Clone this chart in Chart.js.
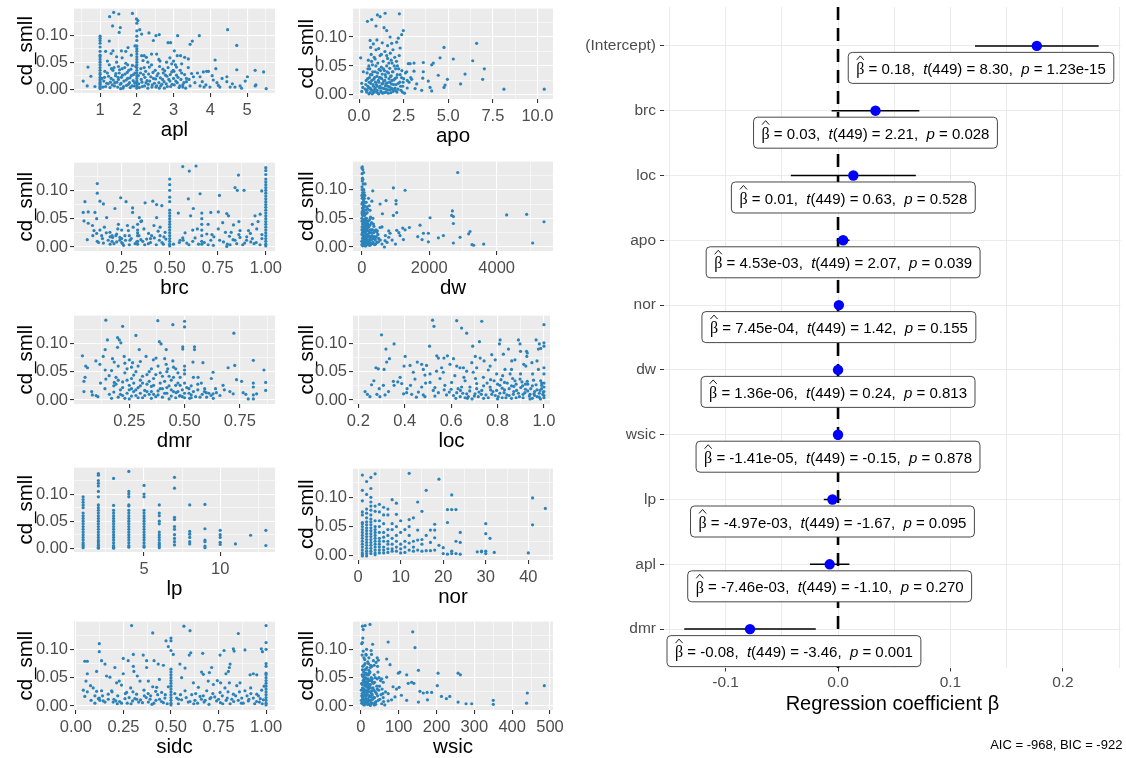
<!DOCTYPE html>
<html><head><meta charset="utf-8">
<script src="https://cdn.jsdelivr.net/npm/chart.js@4/dist/chart.umd.min.js"></script>
<style>
body{margin:0;background:#fff;width:1126px;height:758px;position:relative;overflow:hidden}
canvas{position:absolute}
</style></head><body>
<script>
// ---------------- DATA ----------------
const yMajor = [0, 0.05, 0.10];
const yMajorLabels = ['0.00', '0.05', '0.10'];
const yMinor = [0.025, 0.075, 0.125];

// apl
const aplCols = [[1,[.098,.094,.09,.085,.078,.07,.063,.06,.055,.05,.045,.04,.035,.03,.027,.022,.018,.015,.012,.01,.008,.005,.003,.001]],
 [2,[.122,.108,.098,.09,.08,.075,.07,.065,.06,.055,.05,.045,.04,.035,.03,.025,.02,.015,.012,.008,.005,.002]]];
const aplPts = [[1.26,.134],[1.37,.142],[1.51,.139],[1.88,.140],[1.99,.130],[2.03,.127],[1.34,.117],[1.52,.105],[1.55,.114],[2.08,.110],[2.13,.102],[2.33,.104],[2.52,.099],[2.61,.101],[3.11,.099],[3.70,.099],[4.47,.110],[4.72,.081],[3.51,.089],[3.45,.083],[2.85,.086],[2.92,.086],[2.45,.090],[1.25,.089],
 [1.58,.071],[1.76,.077],[1.95,.080],[1.35,.071],[3.02,.071],[3.10,.062],[3.19,.062],[3.30,.059],[3.40,.056],[4.13,.054],[4.15,.038],[4.72,.036],[5.01,.023],[5.22,.035],[5.45,.032],[0.67,.041],[0.75,.024],[0.54,.015],[0.65,.006],[0.86,.005],[3.90,.033],[3.95,.033],[3.81,.032],[3.72,.023],[4.08,.017],[4.45,.023],[4.45,.014],[4.54,.004],[4.67,.004],[4.85,.002],[4.95,.015],[5.22,.006],[5.24,.008],[5.52,.001],[4.81,.006],[4.22,.007],[4.26,.004],[3.99,.004],[3.83,.004],[3.72,.006],[3.45,.006],[3.25,.004],[3.49,.029],[3.54,.023],[3.35,.020],[2.81,.050],[2.63,.052],[2.54,.065],[2.40,.065],[2.26,.059],[2.17,.053],[2.13,.062],[2.76,.034],[2.99,.035],[3.08,.041],[3.22,.047],[2.95,.047],
 [1.1,.015],[1.15,.005],[1.2,.03],[1.22,.01],[1.25,.045],[1.3,.02],[1.33,.008],[1.35,.035],[1.4,.012],[1.42,.025],[1.45,.05],[1.48,.004],[1.5,.018],[1.5,.042],[1.52,.03],[1.55,.009],[1.58,.022],[1.6,.038],[1.62,.002],[1.65,.015],[1.68,.028],[1.7,.048],[1.72,.007],[1.75,.02],[1.78,.035],[1.8,.012],[1.82,.003],[1.85,.025],[1.88,.044],[1.9,.016],[1.93,.006],[1.95,.03],[1.45,.06],[1.6,.058],[1.3,.066],[1.15,.07],[1.7,.07],[1.85,.063],[1.2,.052],[1.38,.04],[1.12,.022],[1.28,.013],[1.56,.001],[1.75,.045],
 [2.05,.01],[2.1,.03],[2.12,.018],[2.15,.005],[2.2,.04],[2.22,.022],[2.25,.012],[2.3,.002],[2.32,.028],[2.35,.015],[2.4,.045],[2.42,.008],[2.45,.02],[2.5,.035],[2.52,.004],[2.55,.025],[2.6,.012],[2.62,.042],[2.65,.006],[2.7,.018],[2.72,.03],[2.75,.002],[2.8,.01],[2.82,.024],[2.85,.04],[2.9,.015],[2.92,.005],[2.95,.032],[3.0,.02],[3.02,.008],[3.05,.045],[3.08,.026],[3.1,.012],[3.15,.003],[3.18,.035],[3.2,.018],[3.25,.008],[3.3,.027],[3.35,.014],[3.4,.04],[2.3,.05],[2.6,.055],[2.9,.058],[2.2,.062],[3.0,.052]];
const aplExtra = [[1.05,.02],[1.08,.004],[1.13,.033],[1.18,.011],[1.23,.024],[1.27,.003],[1.31,.038],[1.36,.017],[1.39,.006],[1.43,.029],[1.46,.013],[1.49,.022],[1.53,.036],[1.57,.011],[1.61,.026],[1.64,.005],[1.67,.04],[1.71,.017],[1.74,.031],[1.77,.009],[1.81,.021],[1.84,.037],[1.87,.006],[1.91,.027],[1.94,.012],[1.97,.042],[2.04,.025],[2.07,.003],[2.11,.038],[2.14,.013],[2.18,.027],[2.21,.006],[2.24,.033],[2.28,.016],[2.31,.009],[2.34,.041],[2.38,.023],[2.41,.004],[2.44,.031],[2.48,.011],[2.51,.019],[2.54,.006],[2.58,.029],[2.61,.002],[2.64,.021],[2.68,.009],[2.71,.037],[2.74,.014],[2.78,.026],[2.83,.005],[2.87,.018],[2.91,.027],[2.96,.009],[3.01,.033],[3.06,.015],[3.12,.022],[3.17,.006],[3.22,.03],[3.28,.012],[3.33,.002],[3.42,.018],[3.58,.012],[3.65,.03],[3.78,.014],[3.88,.008],[4.05,.025],[4.18,.012],[4.32,.02],[4.6,.01]];

// apo
const apoPts = [[0.47,.127],[0.71,.130],[1.03,.138],[1.18,.135],[1.46,.141],[2.26,.140],[0.95,.119],[1.40,.116],[1.55,.111],[1.74,.100],[2.48,.111],[2.39,.104],[2.2,.098],[0.62,.094],[1.83,.089],[2.11,.091],[2.3,.081],[4.76,.082],[6.59,.089],[5.28,.062],[6.37,.059],[7.02,.045],[5.94,.036],[6.93,.027],[5.69,.019],[8.12,.010],[10.38,.010],[4.95,.027],[4.82,.017],[4.76,.013],[4.44,.034],[4.54,.064],[4.16,.055],[4.07,.052],[3.6,.056],[3.6,.040],[3.57,.029],[3.51,.008],[3.88,.024],[3.98,.013],[4.07,.007],[3.08,.041],[3.08,.055],[2.86,.054],[2.76,.054],[2.67,.040],[2.7,.025],[2.95,.027],[3.23,.019],[3.14,.011],[0.09,.064],[0.24,.040],[0.15,.020],[0.21,.013],[0.15,.006],
 [0.35,.01],[0.4,.025],[0.42,.005],[0.45,.038],[0.5,.015],[0.52,.06],[0.55,.002],[0.58,.03],[0.6,.045],[0.62,.012],[0.65,.02],[0.68,.07],[0.7,.008],[0.72,.035],[0.75,.052],[0.78,.018],[0.8,.004],[0.82,.027],[0.85,.065],[0.88,.01],[0.9,.04],[0.92,.022],[0.95,.078],[0.98,.005],[1.0,.032],[1.02,.015],[1.05,.055],[1.08,.025],[1.1,.002],[1.12,.044],[1.15,.012],[1.18,.068],[1.2,.03],[1.22,.007],[1.25,.048],[1.28,.019],[1.3,.036],[1.32,.003],[1.35,.058],[1.38,.024],[1.4,.011],[1.42,.042],[1.45,.075],[1.48,.016],[1.5,.031],[1.52,.005],[1.55,.05],[1.58,.021],[1.6,.063],[1.62,.009],[1.65,.038],[1.68,.028],[1.7,.014],[1.72,.046],[1.75,.072],[1.78,.004],[1.8,.033],[1.82,.019],[1.85,.055],[1.88,.01],[1.9,.04],[1.95,.026],[2.0,.065],[2.02,.012],[2.05,.045],[2.1,.03],[2.12,.005],[2.15,.05],[2.2,.02],[2.25,.068],[2.3,.035],[2.35,.008],[2.4,.042],[2.45,.015],[2.5,.028],[2.55,.003],[2.6,.038],[2.7,.012],[2.8,.022],[2.9,.03],[0.8,.088],[1.0,.095],[1.3,.09],[1.6,.085],[0.65,.082],[1.1,.08],[1.9,.078],[0.5,.045],[0.55,.05]];
const apoExtra = [[0.38,.018],[0.44,.008],[0.48,.028],[0.53,.012],[0.57,.022],[0.61,.004],[0.64,.035],[0.67,.01],[0.71,.025],[0.74,.002],[0.77,.04],[0.81,.015],[0.84,.006],[0.87,.03],[0.91,.012],[0.94,.05],[0.97,.018],[1.01,.008],[1.04,.038],[1.07,.003],[1.11,.022],[1.14,.03],[1.17,.015],[1.21,.042],[1.24,.005],[1.27,.028],[1.31,.012],[1.34,.02],[1.37,.045],[1.41,.004],[1.44,.025],[1.47,.035],[1.51,.01],[1.54,.02],[1.57,.04],[1.61,.015],[1.64,.003],[1.67,.055],[1.71,.022],[1.74,.009],[1.77,.032],[1.81,.012],[1.84,.025],[1.87,.04],[1.91,.006],[1.94,.018],[1.97,.05],[2.01,.028],[2.04,.008],[2.08,.018],[2.14,.035],[2.18,.01],[2.22,.045],[2.28,.022],[2.33,.015],[2.38,.03],[2.43,.005],[2.47,.022],[0.9,.062],[1.25,.07],[1.55,.068],[1.8,.06],[2.1,.058],[0.7,.058]];

// brc
const brcCols = [[1.0,[.14,.135,.128,.12,.115,.11,.105,.1,.095,.09,.085,.08,.075,.07,.065,.06,.055,.05,.045,.04,.035,.03,.025,.02,.015,.01,.005,.002]],
 [0.5,[.12,.11,.1,.088,.08,.065,.06,.055,.05,.045,.04,.035,.03,.025,.02,.015,.01,.005,.002]],
 [0.667,[.06,.05,.04,.03,.02,.01,.005]],[0.333,[.04,.03,.025,.02,.01,.005]],[0.25,[.03,.015,.008]],[0.2,[.02,.01]]];
const brcPts = [[.568,.142],[.602,.134],[.637,.143],[.123,.112],[.123,.095],[.137,.081],[.155,.076],[.059,.080],[.245,.087],[.273,.080],[.307,.069],[.307,.061],[.372,.078],[.412,.081],[.432,.075],[.459,.073],[.215,.068],[.172,.052],[.076,.062],[.05,.061],[.111,.061],[.054,.046],[.076,.042],[.098,.038],[.071,.013],[.106,.029],[.12,.024],[.137,.030],[.146,.020],[.123,.010],[.155,.007],[.189,.026],[.203,.017],[.224,.009],[.233,.040],[.241,.017],[.255,.006],[.267,.020],[.285,.029],[.293,.012],[.328,.009],[.342,.052],[.354,.046],[.366,.032],[.38,.014],[.389,.006],[.406,.020],[.418,.038],[.432,.052],[.446,.012],[.467,.005],[.476,.026],[.545,.060],[.554,.012],[.568,.016],[.589,.007],[.597,.085],[.609,.055],[.623,.068],[.632,.016],[.644,.032],[.658,.094],[.693,.023],[.714,.061],[.714,.012],[.753,.062],[.753,.032],[.759,.091],[.776,.043],[.797,.059],[.806,.055],[.797,.001],[.814,.004],[.832,.039],[.84,.105],[.852,.100],[.858,.127],[.866,.029],[.887,.100],[.901,.018],[.922,.009],[.939,.006],[.944,.055],[.953,.032],[.979,.099],[.971,.058],[.811,.019],[.866,.017],[.91,.029],[.84,.012],[.727,.003],[.849,.006],[.224,.023],[.18,.012],[.16,.035],[.19,.005],[.29,.004],[.31,.035],[.36,.01],[.4,.015],[.44,.028],[.47,.018],[.58,.025],[.6,.004],[.68,.008],[.73,.018],[.78,.009],[.82,.026],[.88,.004],[.93,.015],[.96,.045],[.98,.022]];
const brcExtra = [[.1,.02],[.13,.008],[.15,.015],[.17,.025],[.19,.018],[.21,.006],[.22,.02],[.24,.012],[.26,.003],[.27,.012],[.29,.02],[.3,.015],[.32,.006],[.34,.02],[.35,.013],[.37,.004],[.39,.024],[.4,.008],[.42,.016],[.43,.004],[.45,.02],[.46,.008],[.48,.014],[.52,.005],[.55,.008],[.57,.012],[.62,.01],[.65,.005],[.7,.004],[.72,.022],[.76,.012],[.79,.026],[.8,.005],[.83,.013],[.86,.022],[.89,.007],[.9,.012],[.92,.024],[.95,.008],[.97,.004],[.98,.015],[.12,.05],[.23,.032],[.28,.038],[.35,.045],[.45,.035],[.62,.03],[.7,.04],[.86,.045],[.93,.04]];

// dw
const dwPts = [[2845,.130],[1284,.099],[938,.103],[326,.098],[721,.081],[1017,.081],[1017,.075],[1037,.060],[938,.055],[543,.075],[612,.058],[2687,.063],[2667,.055],[2716,.053],[4296,.056],[4889,.057],[5403,.044],[2025,.051],[1728,.038],[2716,.041],[3210,.027],[3170,.023],[2914,.017],[2420,.020],[2272,.016],[1975,.024],[1827,.024],[1660,.018],[1788,.013],[1975,.009],[2716,.007],[3269,.004],[3318,.003],[3615,.005],[5067,.007],[1215,.033],[1412,.034],[1284,.030],[1037,.029],[1136,.020],[1235,.013],[840,.024],[800,.017],[691,.011],[672,.000],[494,.009],[543,.034],[444,.026],[395,.014],
 [5,.138],[15,.14],[30,.135],[10,.128],[20,.12],[40,.11],[8,.105],[60,.1],[25,.095],[90,.09],[12,.085],[50,.08],[130,.078],[200,.085],[35,.075],[70,.07],[110,.065],[160,.06],[220,.072],[300,.08],[18,.062],[45,.058],[80,.055],[140,.05],[190,.045],[260,.052],[330,.05],[5,.05],[22,.045],[55,.042],[95,.04],[120,.036],[170,.033],[240,.038],[290,.03],[360,.036],[10,.035],[30,.03],[65,.028],[100,.025],[150,.022],[210,.02],[270,.018],[340,.015],[400,.012],[8,.022],[40,.018],[75,.015],[115,.012],[180,.01],[230,.008],[310,.006],[380,.004],[15,.01],[50,.006],[85,.004],[125,.002],[165,.005],[250,.003],[450,.008],[500,.015],[3,.004],[28,.002],[60,.012],[105,.008],[140,.017],[200,.028],[280,.042],[350,.025],[420,.03],[480,.022],[550,.012],[600,.035],[700,.02],[800,.028],[900,.012],[1000,.005],[20,.068],[35,.088],[70,.095],[100,.11],[5,.075],[12,.058],[25,.04],[45,.027],[150,.07],[600,.005],[750,.008],[1100,.025],[30,.118],[55,.13],[75,.085],[180,.04],[220,.003]];
const dwExtra = [[2,.01],[6,.03],[9,.045],[14,.06],[17,.025],[21,.015],[26,.055],[33,.008],[38,.04],[42,.065],[48,.02],[52,.035],[58,.005],[62,.048],[68,.018],[72,.032],[78,.06],[82,.01],[88,.025],[92,.045],[98,.002],[104,.02],[108,.038],[112,.05],[118,.006],[122,.028],[128,.015],[133,.042],[138,.032],[145,.008],[152,.038],[158,.02],[163,.045],[168,.012],[175,.028],[185,.018],[195,.006],[205,.035],[215,.012],[225,.025],[235,.048],[245,.015],[255,.03],[265,.006],[275,.025],[285,.012],[295,.042],[305,.02],[320,.03],[335,.008],[345,.04],[370,.018],[390,.028],[410,.005],[430,.018],[460,.028],[3,.09],[11,.1],[16,.115],[24,.078],[31,.068],[39,.092],[47,.072],[57,.083],[64,.064],[83,.072],[96,.078],[125,.058],[175,.066],[245,.064]];

// dmr
const dmrPts = [[.144,.141],[.22,.130],[.28,.114],[.379,.140],[.447,.133],[.5,.139],[.5,.129],[.151,.106],[.197,.110],[.205,.106],[.212,.101],[.295,.089],[.141,.089],[.197,.093],[.386,.103],[.394,.099],[.417,.089],[.492,.090],[.492,.094],[.545,.094],[.545,.089],[.038,.078],[.099,.069],[.117,.063],[.132,.077],[.174,.073],[.182,.067],[.053,.060],[.061,.057],[.05,.040],[.045,.033],[.045,.015],[.08,.015],[.083,.009],[.108,.006],[.141,.053],[.144,.037],[.159,.043],[.182,.031],[.227,.077],[.25,.071],[.265,.066],[.326,.077],[.359,.071],[.371,.074],[.41,.073],[.417,.063],[.424,.055],[.447,.069],[.5,.060],[.5,.053],[.5,.046],[.538,.067],[.583,.066],[.621,.038],[.629,.049],[.561,.040],[.576,.030],[.591,.020],[.598,.013],[.629,.011],[.644,.013],[.674,.026],[.697,.057],[.727,.061],[.723,.118],[.735,.036],[.758,.033],[.765,.013],[.777,.010],[.788,.002],[.811,.070],[.811,.030],[.811,.023],[.811,.009],[.811,.002],[.826,.011],[.859,.053],[.867,.031],[.867,.017],[.72,.011],[.705,.015],[.53,.009],[.523,.003],[.477,.007],[.462,.013],
 [.16,.01],[.18,.025],[.19,.04],[.2,.005],[.21,.018],[.22,.032],[.23,.048],[.24,.012],[.25,.026],[.25,.002],[.26,.038],[.27,.015],[.28,.05],[.28,.008],[.29,.022],[.3,.035],[.31,.004],[.32,.017],[.33,.045],[.33,.028],[.34,.01],[.35,.024],[.36,.038],[.37,.006],[.38,.016],[.39,.03],[.4,.042],[.41,.012],[.42,.022],[.43,.002],[.44,.035],[.45,.015],[.46,.026],[.47,.048],[.48,.008],[.49,.018],[.5,.03],[.5,.004],[.52,.012],[.53,.025],[.54,.04],[.55,.006],[.56,.018],[.58,.01],[.6,.005],[.62,.008],[.63,.003],[.2,.06],[.23,.065],[.26,.058],[.3,.068],[.35,.055],[.38,.06],[.42,.05],[.45,.058],[.48,.04],[.14,.02],[.12,.03],[.1,.008],[.17,.052],[.22,.008],[.26,.02],[.31,.03],[.36,.01],[.4,.02],[.44,.007],[.47,.03],[.52,.02]];
const dmrExtra = [[.17,.003],[.18,.014],[.19,.028],[.21,.01],[.22,.022],[.23,.003],[.24,.035],[.25,.018],[.26,.007],[.27,.03],[.27,.044],[.28,.018],[.29,.004],[.3,.012],[.3,.025],[.31,.042],[.32,.008],[.33,.015],[.34,.033],[.35,.003],[.35,.015],[.36,.026],[.37,.045],[.38,.009],[.39,.02],[.4,.005],[.41,.033],[.42,.012],[.43,.025],[.44,.018],[.45,.04],[.46,.004],[.47,.015],[.48,.026],[.49,.006],[.5,.012],[.51,.022],[.53,.004],[.54,.015],[.56,.028],[.57,.005],[.59,.015],[.61,.012],[.64,.02],[.66,.008],[.68,.018],[.2,.035],[.24,.055],[.29,.06],[.34,.05],[.39,.048],[.43,.042],[.46,.055]];

// loc
const locPts = [[.52,.141],[.526,.130],[.624,.140],[.645,.127],[.667,.118],[.732,.139],[1.0,.133],[.30,.115],[.319,.090],[.354,.099],[.334,.073],[.507,.095],[.693,.095],[.722,.103],[.811,.106],[.808,.099],[.847,.090],[.89,.106],[.897,.099],[.899,.086],[.925,.086],[.976,.090],[.986,.091],[1.0,.101],[1.0,.095],[.98,.099],[.966,.106],[.928,.083],[.926,.077],[.775,.080],[.79,.071],[.825,.081],[.861,.069],[.875,.071],[.276,.057],[.286,.055],[.311,.054],[.322,.067],[.397,.060],[.402,.077],[.423,.061],[.454,.067],[.473,.063],[.48,.054],[.494,.061],[.487,.044],[.545,.074],[.538,.078],[.569,.074],[.584,.078],[.61,.073],[.624,.060],[.653,.057],[.689,.066],[.704,.077],[.725,.074],[.229,.015],[.239,.010],[.25,.006],[.257,.027],[.267,.034],[.29,.020],[.293,.006],[.315,.009],[.308,.026],[.351,.033],[.354,.026],[.38,.040],[.387,.029],[.395,.011],[.408,.013],[.425,.026],[.43,.010],[.444,.037],[.459,.014],[.473,.023],[.48,.009],[.487,.006],[.509,.031],[.523,.017],[.53,.007],[.545,.013],[.552,.038],[.566,.049],[.573,.026],[.58,.009],[.592,.014],[.602,.031],[.616,.043],[.624,.013],[.639,.006],[.645,.023],[.66,.034],[.667,.011],[.674,.006],[.681,.023],[.695,.049],[.703,.011],[.71,.029],[.717,.006],[.732,.017],[.739,.040],[.75,.009],[.76,.053],[.768,.023],[.775,.010],[.785,.034],[.796,.017],[.803,.006],[.81,.026],[.822,.043],[.828,.013],[.836,.004],[.842,.030],[.85,.020],[.86,.054],[.868,.010],[.875,.034],[.882,.017],[.894,.006],[.899,.046],[.908,.025],[.918,.013],[.922,.060],[.928,.033],[.937,.007],[.943,.020],[.951,.046],[.957,.011],[.966,.027],[.971,.006],[.976,.054],[.983,.017],[.986,.034],[.995,.010],[1.0,.023],[1.0,.004],[1.0,.046],[1.0,.057],[.997,.014],[.99,.026],[.97,.069],[.948,.066],[.913,.063],[.897,.037],[.854,.046],[.832,.054],[.796,.046],[.768,.060],[.742,.069],[.71,.057],[.667,.051],[.638,.057],[.595,.063],[.559,.057],[.537,.051],[.509,.046],[.437,.049],
 [.62,.003],[.66,.004],[.69,.002],[.72,.014],[.74,.003],[.78,.015],[.8,.002],[.82,.021],[.84,.009],[.86,.003],[.87,.024],[.89,.012],[.91,.004],[.92,.019],[.94,.01],[.95,.003],[.96,.015],[.98,.005],[.99,.02],[.93,.028],[.88,.028],[.83,.031],[.77,.036],[.64,.017],[.6,.019]];
const locExtra = [[.61,.008],[.63,.02],[.65,.012],[.67,.003],[.68,.016],[.7,.007],[.71,.02],[.73,.01],[.74,.025],[.76,.004],[.77,.018],[.79,.008],[.8,.028],[.81,.012],[.82,.004],[.83,.018],[.85,.008],[.86,.025],[.87,.015],[.88,.004],[.9,.022],[.91,.01],[.92,.028],[.93,.016],[.94,.002],[.95,.025],[.96,.008],[.97,.018],[.98,.012],[.99,.03],[1.0,.008],[1.0,.015],[1.0,.03],[.985,.002],[.955,.035],[.905,.032],[.865,.038],[.815,.036],[.755,.03],[.705,.038],[.655,.04],[.57,.018],[.53,.022],[.49,.03],[.45,.005],[.41,.02],[.37,.032],[.33,.015],[.28,.01]];

// lp
const lpCols = [[1,[.095,.09,.085,.08,.075,.065,.06,.055,.05,.045,.04,.035,.03,.025,.02,.015,.01,.007,.004,.001]],
 [2,[.138,.135,.125,.12,.115,.105,.095,.08,.075,.07,.065,.06,.055,.05,.045,.04,.035,.03,.025,.02,.015,.012,.008,.005,.002,.0]],
 [3,[.129,.079,.07,.065,.06,.055,.05,.045,.04,.035,.03,.025,.02,.015,.01,.005,.002,.0]],
 [4,[.142,.105,.1,.095,.08,.078,.07,.065,.06,.055,.05,.045,.04,.035,.03,.025,.02,.015,.01,.005,.002]],
 [5,[.116,.1,.095,.07,.065,.06,.055,.05,.045,.04,.035,.03,.025,.02,.015,.01,.005,.002]],
 [6,[.08,.065,.06,.05,.045,.03,.025,.02,.015,.01,.007,.004,.001]],
 [7,[.131,.111,.057,.053,.04,.035,.025,.018,.012,.006]],[8,[.080,.031,.026,.02,.012,.008]],
 [9,[.081,.036,.015,.012,.004,.001]],[10,[.033,.025,.02,.011,.007]],[11,[.008]],[12,[.024]],[13,[.033,.005]]];

// nor
const norCols = [[1,[.138,.112,.094,.075,.07,.057,.055,.05,.045,.04,.035,.03,.025,.02,.015,.01,.005,.002,.0]],
 [2,[.127,.105,.08,.073,.065,.058,.053,.048,.043,.038,.033,.028,.023,.018,.013,.008,.004,.0]],
 [3,[.134,.115,.1,.092,.085,.078,.07,.063,.058,.053,.048,.043,.038,.033,.028,.023,.018,.013,.008,.004]],
 [4,[.14,.085,.076,.06,.05,.045,.04,.035,.03,.025,.02,.015,.01,.005,.002]],
 [5,[.088,.075,.06,.05,.04,.03,.025,.02,.015,.01,.005]],[6,[.083,.07,.055,.04,.032,.025,.015,.01,.005]],
 [7,[.08,.07,.045,.035,.025,.02,.012,.006]],[8,[.096,.055,.045,.03,.02,.012,.008]],[9,[.09,.071,.05,.035,.025,.015,.008]],
 [10,[.06,.04,.02,.012,.005]],[11,[.045,.025,.015,.006]],[12,[.141,.062,.05,.035,.022,.01]],[13,[.065,.025,.015,.008]],
 [14,[.092,.044,.027,.01]],[15,[.076,.028,.02,.008]],[16,[.112,.035,.009]],[17,[.044,.023,.009]],[18,[.054,.044,.031,.01]],
 [19,[.131,.018]],[20,[.014,.004]],[21,[.057,.079,.003]],[22,[.104,.079,.008,.004]],[23,[.079,.025,.004]],[24,[.04,.023,.003]],
 [28,[.007]],[29,[.007,.008]],[30,[.055,.038,.008,.004]],[31,[.03]],[32,[.006]],[40,[.005]],[41,[.099,.053]],[44,[.081]]];

// sidc
const sidcCols = [[1.0,[.142,.112,.1,.075,.07,.058,.055,.05,.045,.04,.035,.03,.025,.02,.015,.01,.005,.002]],
 [0.5,[.12,.115,.098,.065,.06,.055,.05,.045,.04,.035,.03,.025,.02,.015,.01,.005,.002]]];
const sidcPts = [[.293,.142],[.404,.129],[.568,.141],[.6,.133],[.854,.128],[.123,.110],[.123,.096],[.474,.115],[.486,.105],[.512,.091],[.596,.090],[.604,.094],[.667,.093],[.758,.090],[.779,.098],[.828,.101],[.832,.097],[.889,.099],[.975,.101],[.981,.096],[.047,.079],[.06,.079],[.135,.080],[.153,.074],[.205,.068],[.249,.084],[.275,.080],[.302,.091],[.302,.070],[.305,.061],[.354,.090],[.372,.080],[.372,.068],[.411,.080],[.433,.074],[.46,.072],[.547,.074],[.574,.067],[.714,.068],[.811,.074],[.807,.068],[.789,.057],[.802,.061],[.661,.060],[.67,.056],[.702,.059],[.744,.045],[.761,.041],[.916,.055],[.933,.057],[.951,.055],[.06,.057],[.053,.044],[.039,.028],[.06,.025],[.047,.017],[.077,.036],[.091,.032],[.109,.061],[.109,.026],[.118,.013],[.123,.014],[.126,.010],[.144,.009],[.153,.007],[.161,.053],[.179,.051],[.188,.027],[.196,.007],[.218,.004],[.214,.041],[.228,.044],[.24,.037],[.258,.013],[.267,.024],[.288,.032],[.298,.009],[.319,.021],[.337,.044],[.34,.011],[.358,.028],[.381,.007],[.393,.018],[.404,.034],[.421,.010],[.439,.047],[.451,.024],[.468,.014],[.486,.034],[.53,.014],[.539,.004],[.556,.011],[.574,.027],[.591,.007],[.609,.020],[.626,.010],[.644,.033],[.653,.017],[.674,.007],[.688,.027],[.705,.013],[.723,.038],[.74,.009],[.758,.024],[.772,.004],[.784,.032],[.796,.014],[.811,.004],[.828,.021],[.846,.036],[.854,.010],[.872,.014],[.889,.027],[.907,.009],[.919,.032],[.933,.014],[.951,.021],[.965,.007],[.977,.028],[.986,.011],[.863,.041],[.807,.041],[.696,.044],[.618,.041],[.556,.050],[.425,.033],[.381,.044],[.323,.053],[.249,.057],[.17,.021],[.135,.027],[.1,.018],
 [.2,.012],[.23,.008],[.27,.005],[.31,.013],[.35,.006],[.37,.015],[.4,.003],[.43,.02],[.46,.006],[.62,.004],[.66,.012],[.7,.003],[.73,.016],[.76,.006],[.82,.012],[.87,.005],[.9,.018],[.94,.004],[.97,.013]];
const sidcExtra = [[.08,.01],[.1,.005],[.14,.018],[.17,.012],[.19,.025],[.21,.009],[.22,.018],[.24,.005],[.26,.022],[.28,.015],[.29,.004],[.3,.025],[.32,.012],[.33,.007],[.36,.018],[.38,.022],[.39,.012],[.41,.005],[.42,.026],[.44,.012],[.45,.008],[.47,.02],[.48,.004],[.52,.022],[.54,.012],[.55,.02],[.58,.015],[.6,.008],[.63,.022],[.64,.005],[.67,.018],[.68,.01],[.71,.015],[.72,.022],[.75,.012],[.77,.018],[.79,.01],[.8,.025],[.83,.008],[.84,.018],[.86,.025],[.88,.005],[.91,.012],[.92,.022],[.95,.008],[.96,.018],[.98,.004],[.99,.035]];

// wsic
const wsicPts = [[4,.141],[11,.142],[24,.144],[6,.135],[137,.131],[143,.103],[72,.113],[31,.109],[4,.112],[6,.097],[13,.091],[28,.091],[43,.085],[46,.081],[77,.073],[68,.083],[103,.060],[99,.058],[152,.063],[121,.055],[204,.058],[257,.058],[263,.055],[202,.036],[134,.042],[140,.040],[125,.040],[156,.026],[165,.023],[175,.024],[187,.024],[213,.017],[235,.017],[226,.013],[257,.007],[278,.004],[293,.004],[350,.010],[350,.003],[438,.005],[440,.023],[485,.036],[176,.011],[152,.007],[121,.010],[107,.019],[90,.016],[81,.011],[72,.009],[63,.002],[59,.015],[72,.022],[94,.030],[101,.033],[85,.034],[59,.042],[68,.051],[55,.048],
 [2,.005],[4,.015],[5,.03],[6,.045],[7,.06],[8,.072],[9,.002],[10,.02],[11,.035],[12,.05],[13,.065],[14,.008],[15,.025],[16,.04],[17,.055],[18,.078],[19,.012],[20,.03],[21,.045],[22,.003],[23,.018],[24,.06],[25,.038],[26,.01],[27,.05],[28,.022],[29,.07],[30,.005],[32,.032],[34,.015],[35,.055],[36,.042],[38,.025],[40,.008],[42,.035],[44,.018],[45,.06],[47,.028],[50,.012],[52,.045],[55,.004],[58,.022],[3,.09],[8,.085],[15,.1],[20,.075],[25,.068],[33,.08],[40,.077],[48,.05],[6,.012],[9,.038],[12,.028],[16,.006],[19,.048],[23,.033],[27,.016],[31,.042],[37,.006],[43,.048],[5,.052],[10,.064],[14,.043],[18,.02],[22,.058],[26,.072],[30,.048],[35,.002],[3,.038],[7,.024],[11,.008],[13,.017],[17,.033],[21,.063],[25,.001],[29,.027],[4,.064],[8,.047],[1,.028],[2,.018]];
const wsicExtra = [[1,.01],[2,.04],[3,.022],[3,.055],[4,.008],[4,.032],[5,.016],[5,.07],[6,.003],[6,.028],[7,.012],[7,.045],[8,.03],[9,.055],[9,.018],[10,.006],[10,.042],[11,.025],[11,.075],[12,.012],[12,.004],[13,.038],[14,.025],[14,.058],[15,.012],[15,.048],[16,.02],[16,.068],[17,.003],[17,.042],[18,.035],[19,.026],[20,.008],[20,.055],[21,.016],[22,.038],[23,.045],[24,.01],[24,.025],[26,.032],[27,.005],[28,.045],[30,.02],[31,.012],[33,.04],[34,.028],[36,.015],[38,.05],[39,.003],[41,.022],[43,.03],[46,.01],[49,.035],[53,.02],[56,.03],[60,.008],[65,.025],[2,.11],[5,.12],[10,.082],[14,.09],[21,.085],[27,.098],[35,.072],[44,.07]];

// coefficient plot
const terms = ['(Intercept)','brc','loc','apo','nor','dw','wsic','lp','apl','dmr'];
const estimates = [0.1768, 0.0333, 0.0136, 0.00453, 0.000745, 0.00000136, -0.0000141, -0.00497, -0.00746, -0.0783];
const ciLow  = [0.1218, -0.0057, -0.0420, -0.00113, -0.000615, -0.0000133, -0.000257, -0.01267, -0.0250, -0.1368];
const ciHigh = [0.2318,  0.0723,  0.0692,  0.01019,  0.002105,  0.0000161,  0.000229,  0.00273,  0.0101, -0.0198];
const betaLabels = ['0.18','0.03','0.01','4.53e-03','7.45e-04','1.36e-06','-1.41e-05','-4.97e-03','-7.46e-03','-0.08'];
const tStats = ['8.30','2.21','0.63','2.07','1.42','0.24','-0.15','-1.67','-1.10','-3.46'];
const pValues = ['1.23e-15','0.028','0.528','0.039','0.155','0.813','0.878','0.095','0.270','0.001'];
const coefTicks = [-0.1, 0, 0.1, 0.2];
const coefMinor = [-0.15, -0.05, 0.05, 0.15, 0.25];
const caption = 'AIC = -968, BIC = -922';

// ---------------- RENDERING ----------------
const FONT = "'Liberation Sans', Arial, sans-serif";
const ptColor = '#2B83BA';
function flat(cols){ const out=[]; cols.forEach(([x,ys])=>ys.forEach(y=>out.push([x,y]))); return out; }

const panels = [
 {name:'apl', pts:aplPts.concat(aplExtra, flat(aplCols)), min:0.29, max:5.76, major:[1,2,3,4,5], labels:['1','2','3','4','5'], minor:[0.5,1.5,2.5,3.5,4.5,5.5], col:0, L:74, R:275, T:7, B:93},
 {name:'apo', pts:apoPts.concat(apoExtra), min:-0.34, max:10.87, major:[0,2.5,5,7.5,10], labels:['0.0','2.5','5.0','7.5','10.0'], minor:[1.25,3.75,6.25,8.75], col:1, L:353, R:553, T:7, B:99},
 {name:'brc', pts:brcPts.concat(brcExtra, flat(brcCols)), min:0.002, max:1.048, major:[0.25,0.5,0.75,1], labels:['0.25','0.50','0.75','1.00'], minor:[0.125,0.375,0.625,0.875], col:0, L:74, R:275, T:160.5, B:251},
 {name:'dw', pts:dwPts.concat(dwExtra), min:-260, max:5670, major:[0,2000,4000], labels:['0','2000','4000'], minor:[1000,3000,5000], col:1, L:353, R:553, T:159.5, B:251},
 {name:'dmr', pts:dmrPts.concat(dmrExtra), min:0.0, max:0.909, major:[0.25,0.5,0.75], labels:['0.25','0.50','0.75'], minor:[0.125,0.375,0.625,0.875], col:0, L:74, R:275, T:313.5, B:404},
 {name:'loc', pts:locPts.concat(locExtra), min:0.177, max:1.026, major:[0.2,0.4,0.6,0.8,1.0], labels:['0.2','0.4','0.6','0.8','1.0'], minor:[0.3,0.5,0.7,0.9], col:1, L:353, R:550, T:313.5, B:404},
 {name:'lp', pts:flat(lpCols), min:0.4, max:13.6, major:[5,10], labels:['5','10'], minor:[2.5,7.5,12.5], col:0, L:74, R:275, T:466, B:552},
 {name:'nor', pts:flat(norCols), min:-1.2, max:45.8, major:[0,10,20,30,40], labels:['0','10','20','30','40'], minor:[5,15,25,35,45], col:1, L:353, R:553, T:466.5, B:560},
 {name:'sidc', pts:sidcPts.concat(sidcExtra, flat(sidcCols)), min:-0.01, max:1.047, major:[0,0.25,0.5,0.75,1], labels:['0.00','0.25','0.50','0.75','1.00'], minor:[0.125,0.375,0.625,0.875], col:0, L:74, R:275, T:619.5, B:710},
 {name:'wsic', pts:wsicPts.concat(wsicExtra), min:-21, max:508, major:[0,100,200,300,400,500], labels:['0','100','200','300','400','500'], minor:[50,150,250,350,450], col:1, L:353, R:553, T:619.5, B:710}
];

const bgPlugin = {id:'panelBg', beforeDraw(chart, args, opts){ if(!opts || !opts.color) return; const {ctx, chartArea:a}=chart; ctx.save(); ctx.fillStyle=opts.color; ctx.fillRect(a.left,a.top,a.right-a.left,a.bottom-a.top); ctx.restore(); }};

function near(v, arr){ return arr.findIndex(a=>Math.abs(a-v)<1e-9*Math.max(1,Math.abs(a))+1e-12); }

function makeCanvas(left, top, w, h){
  const c=document.createElement('canvas'); c.width=w; c.height=h;
  c.style.left=left+'px'; c.style.top=top+'px'; c.style.width=w+'px'; c.style.height=h+'px';
  document.body.appendChild(c); return c;
}
function zeroPad(s){ s.paddingTop=0; s.paddingBottom=0; s.paddingLeft=0; s.paddingRight=0; }

const TICK_FS = 16.5, TITLE_FS = 20.5;
panels.forEach(p=>{
  const colLeft = p.col===0 ? 0 : 290;
  const titleCx = p.col===0 ? 26 : 307;
  const padR = 12, xAxisH = 50;
  const w = p.R + padR - colLeft, h = (p.B - p.T) + xAxisH;
  const c = makeCanvas(colLeft, p.T, w, h);
  new Chart(c, {
    type:'scatter',
    data:{datasets:[{data:p.pts.map(([x,y])=>({x,y})), pointRadius:1.6, pointBackgroundColor:ptColor, pointBorderWidth:0, pointHoverRadius:1.6}]},
    plugins:[bgPlugin],
    options:{
      responsive:false, animation:false, devicePixelRatio:1,
      layout:{padding:{left:0,top:0,right:padR,bottom:0}},
      plugins:{legend:{display:false}, tooltip:{enabled:false}, panelBg:{color:'#EBEBEB'}},
      scales:{
        x:{type:'linear', min:p.min, max:p.max, bounds:'data',
          afterBuildTicks:(s)=>{ s.ticks = p.major.concat(p.minor).filter(v=>v>=p.min&&v<=p.max).sort((a,b)=>a-b).map(v=>({value:v})); },
          afterFit:(s)=>{ s.height = xAxisH; zeroPad(s); },
          ticks:{autoSkip:false, maxRotation:0, padding:4, color:'#4D4D4D', font:{family:FONT,size:TICK_FS},
            callback:(v)=>{ const i=near(v,p.major); return i>=0? p.labels[i] : ''; }},
          grid:{color:'#FFFFFF', lineWidth:(ctx)=> (ctx.tick && near(ctx.tick.value,p.major)>=0) ? 1.1 : 0.55,
            tickColor:(ctx)=> (ctx.tick && near(ctx.tick.value,p.major)>=0) ? '#333333' : 'rgba(0,0,0,0)', tickLength:4, tickWidth:1.1},
          border:{display:false},
          title:{display:true, text:p.name, color:'#000', font:{family:FONT,size:TITLE_FS}, padding:{top:0,bottom:0}}
        },
        y:{type:'linear', min:-0.007, max:0.149, bounds:'data',
          afterBuildTicks:(s)=>{ s.ticks = yMajor.concat(yMinor).sort((a,b)=>a-b).map(v=>({value:v})); },
          afterFit:(s)=>{ s.width = p.L - colLeft; zeroPad(s); },
          ticks:{autoSkip:false, padding:2, color:'#4D4D4D', font:{family:FONT,size:TICK_FS},
            callback:(v)=>{ const i=near(v,yMajor); return i>=0? yMajorLabels[i] : ''; }},
          grid:{color:'#FFFFFF', lineWidth:(ctx)=> (ctx.tick && near(ctx.tick.value,yMajor)>=0) ? 1.1 : 0.55,
            tickColor:(ctx)=> (ctx.tick && near(ctx.tick.value,yMajor)>=0) ? '#333333' : 'rgba(0,0,0,0)', tickLength:4, tickWidth:1.1},
          border:{display:false},
          title:{display:true, text:'cd_smll', color:'#000', font:{family:FONT,size:TITLE_FS}, padding:{top: titleCx - colLeft - 0.6*TITLE_FS, bottom:0}}
        }
      }
    }
  });
});

// ------------- coefficient plot -------------
function roundRectPath(ctx, x, y, w, h, r){
  ctx.beginPath(); ctx.moveTo(x+r,y); ctx.lineTo(x+w-r,y); ctx.arcTo(x+w,y,x+w,y+r,r); ctx.lineTo(x+w,y+h-r); ctx.arcTo(x+w,y+h,x+w-r,y+h,r);
  ctx.lineTo(x+r,y+h); ctx.arcTo(x,y+h,x,y+h-r,r); ctx.lineTo(x,y+r); ctx.arcTo(x,y,x+r,y,r); ctx.closePath();
}
const coefLabelPlugin = {
  id:'coefLabels',
  afterDatasetsDraw(chart){
    const {ctx, chartArea:a, scales:{x, y}} = chart;
    ctx.save();
    const fs = 15;
    const reg = `${fs}px ${FONT}`, ital = `italic ${fs}px ${FONT}`, greek = `16px 'Liberation Serif', 'DejaVu Serif', serif`;
    terms.forEach((t,i)=>{
      const segs = [[greek,'\u03B2'],[reg,' = '+betaLabels[i]+',  '],[ital,'t'],[reg,'(449) = '+tStats[i]+',  '],[ital,'p'],[reg,' = '+pValues[i]]];
      let tw = 0; const ws = segs.map(s=>{ ctx.font=s[0]; const m=ctx.measureText(s[1]).width; tw+=m; return m; });
      const bw = tw + 16, bh = 31;
      const cx = x.getPixelForValue(estimates[i]);
      let left = cx - bw/2;
      left = Math.max(a.left + 3, Math.min(left, a.right - 7 - bw));
      const top = y.getPixelForValue(i) + 6.5;
      roundRectPath(ctx, left, top, bw, bh, 4);
      ctx.fillStyle = '#FFFFFF'; ctx.fill();
      ctx.lineWidth = 0.9; ctx.strokeStyle = '#333333'; ctx.stroke();
      let tx = left + 8; const ty = top + bh/2 + 2;
      ctx.textBaseline = 'middle'; ctx.textAlign = 'left'; ctx.fillStyle = '#000';
      segs.forEach((s,k)=>{
        ctx.font = s[0]; ctx.fillText(s[1], tx, ty);
        if (k===0){ ctx.beginPath(); ctx.moveTo(tx+0.5, ty-10); ctx.lineTo(tx+ws[0]/2, ty-14); ctx.lineTo(tx+ws[0]-0.5, ty-10); ctx.lineWidth=0.9; ctx.strokeStyle='#000'; ctx.stroke(); }
        tx += ws[k];
      });
    });
    ctx.restore();
  }
};

(function(){
  const c = makeCanvas(570, 0, 556, 758);
  const datasets = [];
  datasets.push({type:'line', data:[{x:0,y:-0.6},{x:0,y:9.6}], borderColor:'#000', borderWidth:2.6, borderDash:[13,8], pointRadius:0, order:3});
  terms.forEach((t,i)=>{
    datasets.push({type:'line', data:[{x:ciLow[i],y:i},{x:ciHigh[i],y:i}], borderColor:'#000', borderWidth:1.5, pointRadius:0, order:2});
  });
  datasets.push({type:'scatter', data:estimates.map((e,i)=>({x:e,y:i})), pointRadius:5.2, pointBackgroundColor:'#0000FF', pointBorderWidth:0, order:1});
  new Chart(c, {
    type:'scatter',
    data:{datasets},
    plugins:[coefLabelPlugin],
    options:{
      responsive:false, animation:false, devicePixelRatio:1,
      layout:{padding:{left:0,top:7,right:0,bottom:0}},
      plugins:{legend:{display:false}, tooltip:{enabled:false},
        subtitle:{display:true, text:caption+' ', position:'bottom', align:'end', color:'#000', font:{family:FONT,size:13,weight:'normal'}, padding:{top:0,bottom:5}}},
      scales:{
        x:{type:'linear', min:-0.1548, max:0.2515, bounds:'data',
          afterBuildTicks:(s)=>{ s.ticks = coefTicks.concat(coefMinor).sort((a,b)=>a-b).map(v=>({value:v})); },
          afterFit:(s)=>{ s.height = 69.4; zeroPad(s); },
          ticks:{autoSkip:false, maxRotation:0, padding:1.5, color:'#4D4D4D', font:{family:FONT,size:15.5},
            callback:(v)=>{ const i=near(v,coefTicks); return i>=0? coefTicks[i].toFixed(1) : ''; }},
          grid:{color:'#EBEBEB', lineWidth:1, tickColor:(ctx)=> (ctx.tick && near(ctx.tick.value,coefTicks)>=0) ? '#333333' : 'rgba(0,0,0,0)', tickLength:3.5, tickWidth:1},
          border:{display:false},
          title:{display:true, text:'Regression coefficient \u03B2', color:'#000', font:{family:FONT,size:20}, padding:{top:0,bottom:21.4}}
        },
        y:{type:'linear', min:-0.6, max:9.6, reverse:true, bounds:'data',
          afterBuildTicks:(s)=>{ s.ticks = terms.map((t,i)=>({value:i})); },
          afterFit:(s)=>{ s.width = 94; zeroPad(s); },
          ticks:{autoSkip:false, padding:4, color:'#4D4D4D', font:{family:FONT,size:15.5},
            callback:(v)=> terms[Math.round(v)] || ''},
          grid:{color:'#EBEBEB', lineWidth:1, tickColor:'#333333', tickLength:4, tickWidth:1},
          border:{display:false}
        }
      }
    }
  });
})();
</script>
</body></html>
